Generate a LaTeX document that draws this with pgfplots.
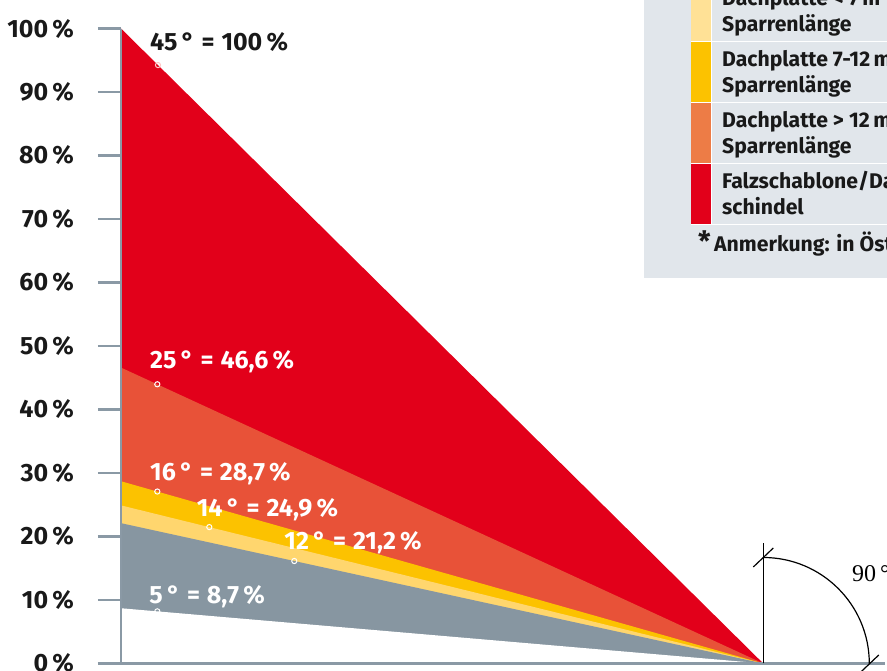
\documentclass[border=0pt]{standalone}
\usepackage{fontspec}
\setmainfont{Fira Sans}
\newfontfamily\seriffont{Liberation Serif}
\usepackage{pgfplots}
\pgfplotsset{compat=1.18}
\definecolor{cred}{RGB}{226,0,26}
\definecolor{corange}{RGB}{232,82,56}
\definecolor{cyellow}{RGB}{252,194,0}
\definecolor{clight}{RGB}{255,214,110}
\definecolor{cgray}{RGB}{135,150,161}
\definecolor{axgray}{RGB}{138,153,165}
\definecolor{legbg}{RGB}{225,230,235}
\definecolor{leglight}{RGB}{255,225,150}
\definecolor{legorange}{RGB}{237,124,70}
\definecolor{txt}{RGB}{25,25,25}
\definecolor{pinkw}{RGB}{255,200,200}
\begin{document}
\begin{tikzpicture}
\useasboundingbox (-121pt,0pt) rectangle (766pt,671pt);
\begin{axis}[
  at={(0pt,0pt)}, anchor=south west,
  scale only axis, width=766pt, height=671pt,
  xmin=0, xmax=766, ymin=-1.181, ymax=104.49,
  axis x line=none, axis y line=left,
  y axis line style={draw=none,-},
  ytick={0,10,20,30,40,50,60,70,80,90,100},
  yticklabels={0\,\%,10\,\%,20\,\%,30\,\%,40\,\%,50\,\%,60\,\%,70\,\%,80\,\%,90\,\%,100\,\%},
  tick align=outside, major tick length=23pt,
  tick style={draw=axgray, line width=2.6pt},
  yticklabel style={font=\bfseries\fontsize{25}{28}\selectfont, text=txt, anchor=east, inner sep=0pt, xshift=-24pt},
  clip=false,
]
% bands
\addplot[fill=cred, draw=none] coordinates {(0,0) (0,100) (642.3,0)};
\addplot[fill=corange, draw=none] coordinates {(0,0) (0,46.6) (642.3,0)};
\addplot[fill=cyellow, draw=none] coordinates {(0,0) (0,28.7) (642.3,0)};
\addplot[fill=clight, draw=none] coordinates {(0,0) (0,24.9) (642.3,0)};
\addplot[fill=cgray, draw=none] coordinates {(0,0) (0,22.1) (642.3,0)};
\addplot[fill=white, draw=none] coordinates {(0,0) (0,8.7) (642.3,0)};
% markers
\addplot[only marks, mark=o, mark size=2.6pt, mark options={draw=pinkw, line width=1pt}] coordinates {(37,94.24)};
\addplot[only marks, mark=o, mark size=2.6pt, mark options={draw=white, line width=1pt}] coordinates {(36.3,43.97) (36.3,27.08) (88.3,21.48) (173.3,16.14) (36.3,8.21)};
% axis lines
\draw[axgray, line width=2.6pt] (axis cs:0,0) -- (axis cs:0,100);
\draw[axgray, line width=3pt] (axis cs:-23,0) -- (axis cs:764,0);
% labels
\node[anchor=base west, inner sep=0pt, text=txt, font=\bfseries\fontsize{25}{28}\selectfont] at (axis cs:29,96.6) {45\,°\;=\;100\,\%};
\node[anchor=base west, inner sep=0pt, text=white, font=\bfseries\fontsize{25}{28}\selectfont] at (axis cs:29,46.45) {25\,°\;=\;46,6\,\%};
\node[anchor=base west, inner sep=0pt, text=white, font=\bfseries\fontsize{25}{28}\selectfont] at (axis cs:29,28.84) {16\,°\;=\;28,7\,\%};
\node[anchor=base west, inner sep=0pt, text=white, font=\bfseries\fontsize{25}{28}\selectfont] at (axis cs:75.7,23.2) {14\,°\;=\;24,9\,\%};
\node[anchor=base west, inner sep=0pt, text=white, font=\bfseries\fontsize{25}{28}\selectfont] at (axis cs:163.3,17.97) {12\,°\;=\;21,2\,\%};
\node[anchor=base west, inner sep=0pt, text=white, font=\bfseries\fontsize{25}{28}\selectfont] at (axis cs:28.3,9.41) {5\,°\;=\;8,7\,\%};
% angle sketch
\draw[black, line width=1.2pt] (axis cs:642.3,0) -- ++(0pt,120.5pt);
\draw[black, line width=1.2pt] (axis cs:642.3,0) ++(0pt,106pt) arc[start angle=90, end angle=0, radius=106pt];
\draw[black, line width=1.2pt] (axis cs:642.3,0) ++(-10pt,96.5pt) -- ++(20pt,19pt);
\draw[black, line width=1.2pt] (axis cs:642.3,0) ++(97.5pt,-8.5pt) -- ++(18pt,17pt);
\node[anchor=base west, inner sep=0pt, font=\seriffont\fontsize{24}{28}\selectfont] at (axis cs:731,12.88) {90\,°};
\end{axis}
% legend (pixel coordinates)
\begin{scope}[x=1pt, y=-1pt, shift={(-121pt,671pt)}]
\fill[legbg] (644,-2) rectangle (890,278);
\fill[leglight] (691,-2) rectangle (711,41);
\fill[cyellow] (691,42) rectangle (711,102);
\fill[legorange] (691,103) rectangle (711,163);
\fill[cred] (691,164) rectangle (711,224.5);
\foreach \yy in {41.4,102.4,163.4,224.6} \draw[white, line width=1.3pt] (691,\yy) -- (890,\yy);
\draw[white, line width=1pt] (711.5,-2) -- (711.5,224.6);
\begin{scope}[every node/.style={anchor=base west, inner sep=0pt, text=txt, font=\bfseries\fontsize{21.2}{24}\selectfont}]
\node at (722,6) {Dachplatte < 7\,m};
\node at (722,32) {Sparrenlänge};
\node at (722,67) {Dachplatte 7-12\,m};
\node at (722,93) {Sparrenlänge};
\node at (722,128) {Dachplatte > 12\,m};
\node at (722,154) {Sparrenlänge};
\node at (722,189) {Falzschablone/Dach-};
\node at (722,215) {schindel};
\node at (714,252) {Anmerkung: in Österreich};
\node[font=\bfseries\fontsize{28}{28}\selectfont] at (698,252) {*};
\end{scope}
\end{scope}
\end{tikzpicture}
\end{document}
